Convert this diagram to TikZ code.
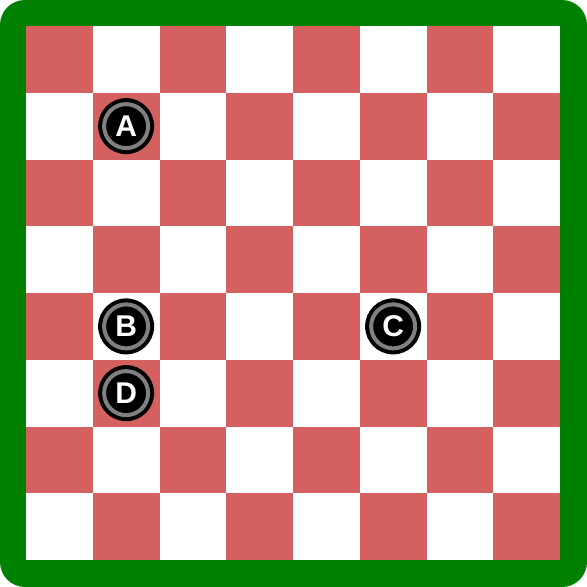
\documentclass[tikz,border=0pt]{standalone}
\usepackage{fontspec}
\setmainfont{Liberation Sans}
\definecolor{boardgreen}{RGB}{0,128,0}
\definecolor{sqred}{RGB}{213,96,96}
\definecolor{ringgray}{RGB}{128,128,128}
\tikzset{
  piece/.style={circle, fill=black, minimum size=56pt, inner sep=0pt},
  ring/.style={draw=ringgray, line width=4pt},
  pletter/.style={text=white, font=\bfseries\fontsize{30}{30}\selectfont, inner sep=0pt}
}
\begin{document}
\begin{tikzpicture}[x=1pt,y=-1pt]
\useasboundingbox (0,0) rectangle (587,587);
\fill[boardgreen, rounded corners=25pt] (0,0) rectangle (587,587);
\fill[white] (26,26) rectangle (560,560);
\foreach \r in {0,...,7}{
  \foreach \c in {0,...,7}{
    \pgfmathtruncatemacro{\myparity}{mod(\r+\c,2)}
    \ifnum\myparity=0
      \fill[sqred] ({26+\c*66.75},{26+\r*66.75}) rectangle ({26+(\c+1)*66.75},{26+(\r+1)*66.75});
    \fi
  }
}
\foreach \n/\x/\y in {A/1/1, B/1/4, C/5/4, D/1/5}{
  \node[piece] (p\n) at ({26+(\x+0.5)*66.75},{26+(\y+0.5)*66.75}) {};
  \draw[ring] (p\n.center) circle[radius=22pt];
  \node[pletter] (t\n) at (p\n.center) {\n};
}
\end{tikzpicture}
\end{document}
